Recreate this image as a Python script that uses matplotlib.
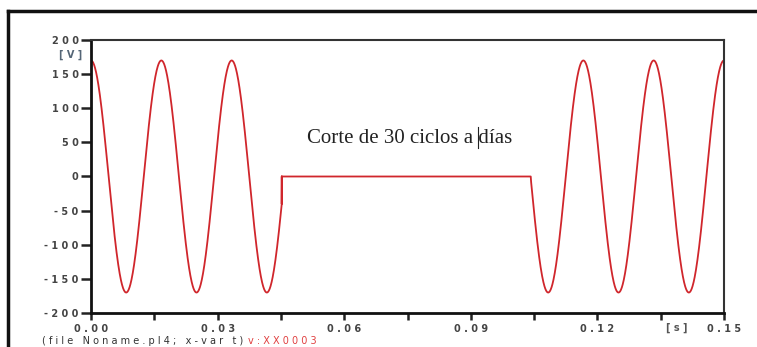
import numpy as np
import matplotlib.pyplot as plt
from matplotlib.lines import Line2D

# signal parameters (ATP plot of the supply voltage with a dropout)
amplitude = 170.0      # V
freq = 60.0            # Hz
cut_start = 0.0452     # s, supply lost
cut_end = 0.1042       # s, supply back

x_major = [0.00, 0.03, 0.06, 0.09, 0.12, 0.15]
x_minor = [0.015, 0.045, 0.075, 0.105, 0.135]
y_ticks = [-200, -150, -100, -50, 0, 50, 100, 150, 200]

W, H = 757, 347


def spaced(s):
    '''spread the characters out like the ATP plot labels'''
    return ' '.join(s)


t = np.linspace(0, 0.15, 3001)
t = np.sort(np.append(t, [cut_start, cut_start]))
v = amplitude * np.cos(2 * np.pi * freq * t)
off = (t > cut_start) & (t < cut_end)
v[off] = 0.0
# vertical step where the cut begins
i = np.searchsorted(t, cut_start)
v[i + 1] = 0.0

fig = plt.figure(figsize=(W / 100, H / 100), dpi=100)
ax = fig.add_axes([91 / W, 1 - 313 / H, (724 - 91) / W, (313 - 40) / H])

ax.plot(t, v, color='#d0262c', lw=1.3)
ax.set_xlim(0, 0.15)
ax.set_ylim(-200, 200)

ax.set_xticks(x_major)
ax.set_xticks(x_minor, minor=True)
ax.set_xticklabels([spaced('%.2f' % x) for x in x_major])
ax.set_yticks(y_ticks)
ax.set_yticklabels([spaced('%d' % y) for y in y_ticks])

ax.tick_params(which='both', direction='out', width=1.8, colors='#222',
               labelcolor='#444', labelsize=7)
ax.tick_params(axis='y', length=7, pad=2)
ax.tick_params(axis='x', which='both', length=5, pad=3)
for lab in ax.get_xticklabels() + ax.get_yticklabels():
    lab.set_fontweight('semibold')

for side in ['left', 'bottom']:
    ax.spines[side].set_linewidth(2.0)
    ax.spines[side].set_color('#111')
for side in ['top', 'right']:
    ax.spines[side].set_linewidth(1.5)
    ax.spines[side].set_color('#333')

ax.text(0.0756, 55, 'Corte de 30 ciclos a días', fontsize=15,
        family='Liberation Serif', color='#222', va='center', ha='center')

# units
fig.text(82 / W, 1 - 55 / H, '[ V ]', fontsize=7, color='#567', ha='right',
         va='center', fontweight='semibold')
fig.text(677 / W, 1 - 328 / H, '[ s ]', fontsize=7, color='#555',
         ha='center', va='center', fontweight='semibold')

# footer with the file name and variable
fig.text(42 / W, 1 - 336 / H, spaced('(file Noname.pl4; x-var t)'),
         fontsize=7, color='#333', ha='left', va='top')
fig.text(248 / W, 1 - 336 / H, spaced('v:XX0003'), fontsize=7,
         color='#e04040', ha='left', va='top')

# outer frame
fig.add_artist(Line2D([8 / W, 1.0], [1 - 11 / H, 1 - 11 / H], color='#111',
                      lw=2.5, transform=fig.transFigure))
fig.add_artist(Line2D([8 / W, 8 / W], [1 - 11 / H, 0.0], color='#111',
                      lw=2.5, transform=fig.transFigure))
# text cursor
fig.add_artist(Line2D([478 / W, 478 / W], [1 - 127 / H, 1 - 148 / H],
                      color='#222', lw=0.8, transform=fig.transFigure))

fig.savefig('out.png', dpi=100)
